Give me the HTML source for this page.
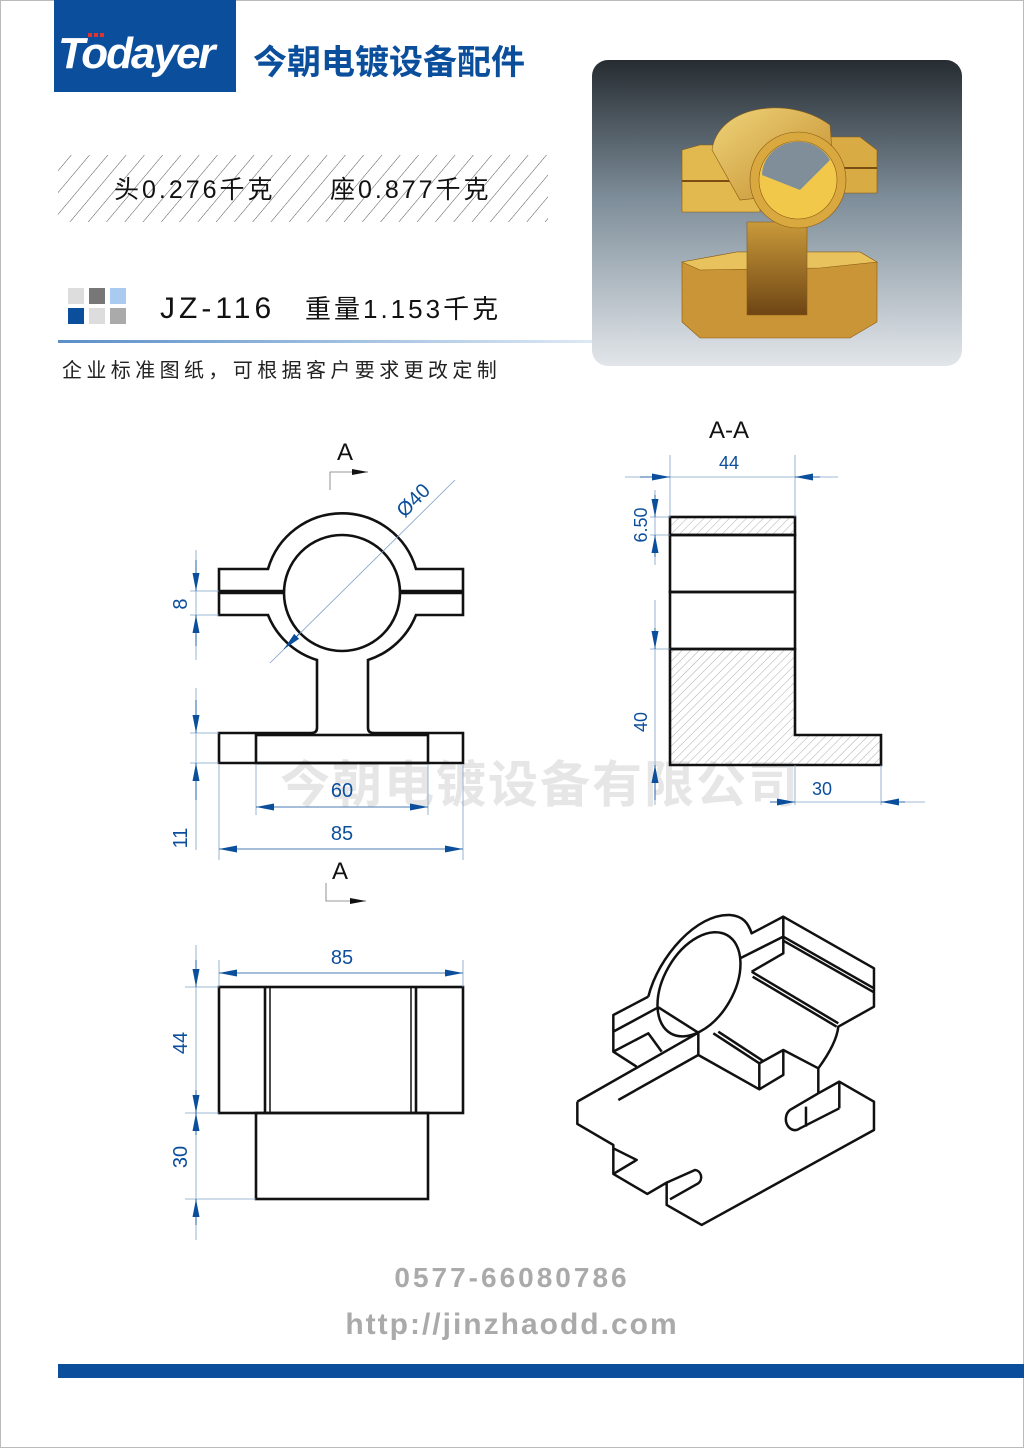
<!DOCTYPE html>
<html><head><meta charset="utf-8"><style>
html,body{margin:0;padding:0;background:#fff}
body{width:1024px;height:1448px;overflow:hidden;position:relative}
svg{position:absolute;left:0;top:0}
.cjk{font-family:"Liberation Sans","Noto Sans CJK SC",sans-serif}
</style></head><body>
<svg width="1024" height="1448" viewBox="0 0 1024 1448" xmlns="http://www.w3.org/2000/svg">
<defs>
<pattern id="hz" width="14" height="14" patternUnits="userSpaceOnUse" patternTransform="rotate(40)">
<line x1="0" y1="0" x2="0" y2="14" stroke="#555" stroke-width="1"/></pattern>
<pattern id="hs" width="6" height="6" patternUnits="userSpaceOnUse" patternTransform="rotate(45)">
<line x1="0" y1="0" x2="0" y2="6" stroke="#999" stroke-width="0.8"/></pattern>
<linearGradient id="bg" x1="0" y1="0" x2="0" y2="1"><stop offset="0" stop-color="#262c31"/><stop offset="0.45" stop-color="#7d8d99"/><stop offset="1" stop-color="#e2e6ea"/></linearGradient>
<linearGradient id="gl" x1="0" y1="0" x2="1" y2="0"><stop offset="0" stop-color="#5b8fc8"/><stop offset="1" stop-color="#dde9f5"/></linearGradient>
<linearGradient id="gd" x1="0" y1="0" x2="1" y2="1"><stop offset="0" stop-color="#f3d77a"/><stop offset="0.5" stop-color="#d6a233"/><stop offset="1" stop-color="#9a6a1c"/></linearGradient>
<linearGradient id="st" x1="0" y1="0" x2="0" y2="1"><stop offset="0" stop-color="#c99a3a"/><stop offset="1" stop-color="#6e4514"/></linearGradient>
<linearGradient id="cy" x1="0" y1="0" x2="1" y2="1"><stop offset="0" stop-color="#f0d47a"/><stop offset="1" stop-color="#c08a2a"/></linearGradient>
<marker id="ar" markerWidth="18" markerHeight="8" refX="18" refY="4" orient="auto" markerUnits="userSpaceOnUse"><path d="M0,0.5 L18,4 L0,7.5 Z" fill="#0b4f9c"/></marker>
<marker id="ak" markerWidth="16" markerHeight="8" refX="16" refY="4" orient="auto" markerUnits="userSpaceOnUse"><path d="M0,1 L16,4 L0,7 Z" fill="#111"/></marker>
</defs>
<rect x="0.5" y="0.5" width="1023" height="1447" fill="none" stroke="#bbb"/>
<!-- header -->
<rect x="54" y="0" width="182" height="92" fill="#0b4f9c"/>
<text x="58" y="68" font-family="Liberation Sans" font-weight="bold" font-style="italic" font-size="44" fill="#fff" letter-spacing="-2">Todayer</text>
<g fill="#d33"><rect x="88" y="33" width="4" height="4"/><rect x="94" y="33" width="4" height="4"/><rect x="100" y="33" width="4" height="4"/></g>
<text x="253" y="74" class="cjk" font-weight="bold" font-size="34" fill="#0b4f9c">今朝电镀设备配件</text>
<rect x="58" y="155" width="490" height="67" fill="url(#hz)"/>
<text x="114" y="198" class="cjk" font-size="25" fill="#111" letter-spacing="3">头0.276千克</text>
<text x="330" y="198" class="cjk" font-size="25" fill="#111" letter-spacing="3">座0.877千克</text>
<rect x="68" y="288" width="16" height="16" fill="#ddd"/><rect x="89" y="288" width="16" height="16" fill="#777"/><rect x="110" y="288" width="16" height="16" fill="#a9cbef"/>
<rect x="68" y="308" width="16" height="16" fill="#0b4f9c"/><rect x="89" y="308" width="16" height="16" fill="#ddd"/><rect x="110" y="308" width="16" height="16" fill="#aaa"/>
<text x="160" y="318" font-family="Liberation Sans" font-size="30" fill="#111" letter-spacing="4">JZ-116</text>
<text x="305" y="318" class="cjk" font-size="26" fill="#111" letter-spacing="3">重量1.153千克</text>
<rect x="58" y="340" width="535" height="3" fill="url(#gl)"/>
<text x="62" y="377" class="cjk" font-size="20" fill="#222" letter-spacing="4.4">企业标准图纸，可根据客户要求更改定制</text>
<!-- photo -->
<rect x="592" y="60" width="370" height="306" rx="16" fill="url(#bg)"/>
<g stroke="#8a5a14" stroke-width="0.6">
<polygon points="682,262 737,252 860,252 877,262 877,322 850,338 700,338 682,322" fill="#c99536"/>
<polygon points="682,262 737,252 860,252 877,262 820,268 700,270" fill="#e8c25c"/>
<polygon points="747,222 807,222 807,315 747,315" fill="url(#st)"/>
<polygon points="682,150 700,145 760,145 760,212 682,212" fill="#e2b94f"/>
<polygon points="823,137 860,137 877,150 877,193 823,193" fill="#d9ab45"/>
<line x1="682" y1="181" x2="760" y2="181" stroke="#7a4e12" stroke-width="2"/>
<line x1="823" y1="168" x2="877" y2="168" stroke="#7a4e12" stroke-width="2"/>
<path d="M712,150 C718,105 790,95 830,125 L835,190 L740,200 Z" fill="url(#cy)"/>
<circle cx="798" cy="180" r="48" fill="#d9a83f"/>
<circle cx="798" cy="180" r="39" fill="#f2c84a"/>
<path d="M762,175 A36,34 0 0 1 830,160 L800,190 Z" fill="#7f8e99" stroke="none"/>
</g>
<!-- watermark -->
<text x="280" y="802" class="cjk" font-weight="bold" font-size="50" fill="#e6e6e6" letter-spacing="2">今朝电镀设备有限公司</text>
<!-- front view -->
<g fill="none" stroke="#111" stroke-width="2.6">
<path d="M219,569 H268 A77,77 0 0 1 416,569 H463 V591 H219 Z"/>
<path d="M219,593 H463 V615 H416 A77,77 0 0 1 368,660 V728 Q368,733 374,733 H463 V763 H219 V733 H311 Q317,733 317,728 V660 A77,77 0 0 1 268,615 H219 Z"/>
<circle cx="342" cy="593" r="58" fill="#fff"/>
<rect x="256" y="735" width="172" height="28"/>
</g>
<g stroke="#7fa0c8" stroke-width="0.8" fill="none">
<line x1="270" y1="663" x2="455" y2="480"/>
<line x1="190" y1="591" x2="219" y2="591"/><line x1="190" y1="615" x2="219" y2="615"/>
<line x1="190" y1="733" x2="219" y2="733"/><line x1="190" y1="763" x2="219" y2="763"/>
<line x1="196" y1="550" x2="196" y2="660"/><line x1="196" y1="688" x2="196" y2="850"/>
<line x1="256" y1="765" x2="256" y2="815"/><line x1="428" y1="765" x2="428" y2="815"/>
<line x1="219" y1="765" x2="219" y2="860"/><line x1="463" y1="765" x2="463" y2="860"/>
</g>
<g stroke="#0b4f9c" stroke-width="0.8" fill="none">
<line x1="196" y1="560" x2="196" y2="591" marker-end="url(#ar)"/>
<line x1="196" y1="646" x2="196" y2="615" marker-end="url(#ar)"/>
<line x1="196" y1="700" x2="196" y2="733" marker-end="url(#ar)"/>
<line x1="196" y1="800" x2="196" y2="763" marker-end="url(#ar)"/>
<line x1="342" y1="807" x2="256" y2="807" marker-end="url(#ar)"/><line x1="342" y1="807" x2="428" y2="807" marker-end="url(#ar)"/>
<line x1="342" y1="849" x2="219" y2="849" marker-end="url(#ar)"/><line x1="342" y1="849" x2="463" y2="849" marker-end="url(#ar)"/>
<line x1="300" y1="633" x2="284" y2="649" marker-end="url(#ar)"/>
</g>
<g font-family="Liberation Sans" font-size="20" fill="#0b4f9c">
<text x="342" y="797" text-anchor="middle">60</text>
<text x="342" y="840" text-anchor="middle">85</text>
<text transform="translate(187,604) rotate(-90)" text-anchor="middle">8</text>
<text transform="translate(187,838) rotate(-90)" text-anchor="middle">11</text>
<text transform="translate(418,505) rotate(-45)" text-anchor="middle">Ø40</text>
</g>
<g font-family="Liberation Sans" font-size="24" fill="#111">
<text x="345" y="460" text-anchor="middle">A</text>
<text x="340" y="879" text-anchor="middle">A</text>
<text x="729" y="438" text-anchor="middle">A-A</text>
</g>
<g stroke="#777" stroke-width="0.8" fill="none">
<polyline points="330,490 330,472 368,472" marker-end="url(#ak)"/>
<polyline points="326,883 326,901 366,901" marker-end="url(#ak)"/>
</g>
<!-- section A-A -->
<g stroke="#111" stroke-width="2.6">
<rect x="670" y="517" width="125" height="18" fill="url(#hs)"/>
<path d="M670,649 H795 V735 H881 V765 H670 Z" fill="url(#hs)"/>
<rect x="670" y="535" width="125" height="57" fill="none"/>
<rect x="670" y="592" width="125" height="57" fill="none"/>
</g>
<g stroke="#7fa0c8" stroke-width="0.8" fill="none">
<line x1="670" y1="455" x2="670" y2="517"/><line x1="795" y1="455" x2="795" y2="517"/>
<line x1="625" y1="477" x2="838" y2="477"/>
<line x1="650" y1="517" x2="670" y2="517"/><line x1="650" y1="535" x2="670" y2="535"/><line x1="650" y1="649" x2="670" y2="649"/>
<line x1="655" y1="490" x2="655" y2="565"/><line x1="655" y1="600" x2="655" y2="805"/>
<line x1="795" y1="765" x2="795" y2="805"/><line x1="881" y1="765" x2="881" y2="805"/>
<line x1="770" y1="802" x2="925" y2="802"/>
</g>
<g stroke="#0b4f9c" stroke-width="0.8" fill="none">
<line x1="640" y1="477" x2="670" y2="477" marker-end="url(#ar)"/>
<line x1="820" y1="477" x2="795" y2="477" marker-end="url(#ar)"/>
<line x1="655" y1="495" x2="655" y2="517" marker-end="url(#ar)"/>
<line x1="655" y1="557" x2="655" y2="535" marker-end="url(#ar)"/>
<line x1="655" y1="628" x2="655" y2="649" marker-end="url(#ar)"/>
<line x1="655" y1="800" x2="655" y2="765" marker-end="url(#ar)"/>
<line x1="770" y1="802" x2="795" y2="802" marker-end="url(#ar)"/>
<line x1="905" y1="802" x2="881" y2="802" marker-end="url(#ar)"/>
</g>
<g font-family="Liberation Sans" font-size="18" fill="#0b4f9c">
<text x="729" y="469" text-anchor="middle">44</text>
<text x="822" y="795" text-anchor="middle">30</text>
<text transform="translate(647,525) rotate(-90)" text-anchor="middle">6.50</text>
<text transform="translate(647,722) rotate(-90)" text-anchor="middle">40</text>
</g>
<!-- top view -->
<g fill="none" stroke="#111" stroke-width="2.6">
<rect x="219" y="987" width="244" height="126"/>
<rect x="256" y="1113" width="172" height="86"/>
<line x1="265" y1="987" x2="265" y2="1113"/><line x1="270" y1="987" x2="270" y2="1113" stroke-width="1.5"/>
<line x1="411" y1="987" x2="411" y2="1113" stroke-width="1.5"/><line x1="416" y1="987" x2="416" y2="1113"/>
</g>
<g stroke="#7fa0c8" stroke-width="0.8" fill="none">
<line x1="219" y1="960" x2="219" y2="987"/><line x1="463" y1="960" x2="463" y2="987"/>
<line x1="185" y1="987" x2="219" y2="987"/><line x1="185" y1="1113" x2="219" y2="1113"/><line x1="185" y1="1199" x2="256" y2="1199"/>
<line x1="196" y1="945" x2="196" y2="1240"/>
</g>
<g stroke="#0b4f9c" stroke-width="0.8" fill="none">
<line x1="342" y1="973" x2="219" y2="973" marker-end="url(#ar)"/><line x1="342" y1="973" x2="463" y2="973" marker-end="url(#ar)"/>
<line x1="196" y1="960" x2="196" y2="987" marker-end="url(#ar)"/>
<line x1="196" y1="1090" x2="196" y2="1113" marker-end="url(#ar)"/>
<line x1="196" y1="1135" x2="196" y2="1113" marker-end="url(#ar)"/>
<line x1="196" y1="1225" x2="196" y2="1199" marker-end="url(#ar)"/>
</g>
<g font-family="Liberation Sans" font-size="20" fill="#0b4f9c">
<text x="342" y="964" text-anchor="middle">85</text>
<text transform="translate(187,1043) rotate(-90)" text-anchor="middle">44</text>
<text transform="translate(187,1157) rotate(-90)" text-anchor="middle">30</text>
</g>
<!-- iso view -->
<g transform="translate(570,900) scale(0.3333)" fill="none" stroke="#111" stroke-width="7.5" stroke-linejoin="round">
<path d="M235,290 C265,170 380,40 480,45 C520,48 535,70 545,100 L640,50"/>
<ellipse cx="387" cy="253" rx="105" ry="170" transform="rotate(30 387 253)"/>
<polyline points="235,290 130,345 130,455 200,500"/>
<line x1="130" y1="395" x2="265" y2="322"/>
<path d="M130,455 L235,400 Q250,420 275,455"/>
<line x1="265" y1="322" x2="385" y2="398"/>
<line x1="22" y1="605" x2="385" y2="398"/>
<line x1="145" y1="600" x2="385" y2="465"/>
<line x1="385" y1="398" x2="385" y2="465"/>
<polyline points="385,465 568,568 640,525 640,450 745,505 745,580"/>
<polyline points="568,568 568,490 640,450"/>
<line x1="430" y1="400" x2="568" y2="490"/><line x1="445" y1="395" x2="578" y2="482"/>
<path d="M745,505 Q800,430 805,380 L912,320 V205 L640,50 V160 L545,215"/>
<line x1="640" y1="110" x2="912" y2="265"/><line x1="640" y1="122" x2="912" y2="277"/>
<line x1="510" y1="175" x2="640" y2="110"/>
<line x1="545" y1="215" x2="805" y2="370"/><line x1="548" y1="230" x2="800" y2="380"/>
<polyline points="22,605 22,672 130,735 130,822 232,882 290,848 290,915 395,975 912,690 912,605 808,545 745,580"/>
<polyline points="130,745 200,780 130,822"/>
<path d="M290,848 L375,810 A20,22 0 0 1 385,850 L300,898"/>
<line x1="808" y1="545" x2="808" y2="625"/>
<path d="M745,580 L660,630 A20,24 0 0 0 690,685 L808,625"/>
<line x1="708" y1="620" x2="708" y2="680"/>
</g>
<!-- footer -->
<text x="512" y="1287" text-anchor="middle" font-family="Liberation Sans" font-weight="bold" font-size="28" fill="#aaa" letter-spacing="3">0577-66080786</text>
<text x="512" y="1334" text-anchor="middle" font-family="Liberation Sans" font-weight="bold" font-size="30" fill="#aaa" letter-spacing="2">http://jinzhaodd.com</text>
<rect x="58" y="1364" width="966" height="14" fill="#0b4f9c"/>
</svg>
</body></html>
